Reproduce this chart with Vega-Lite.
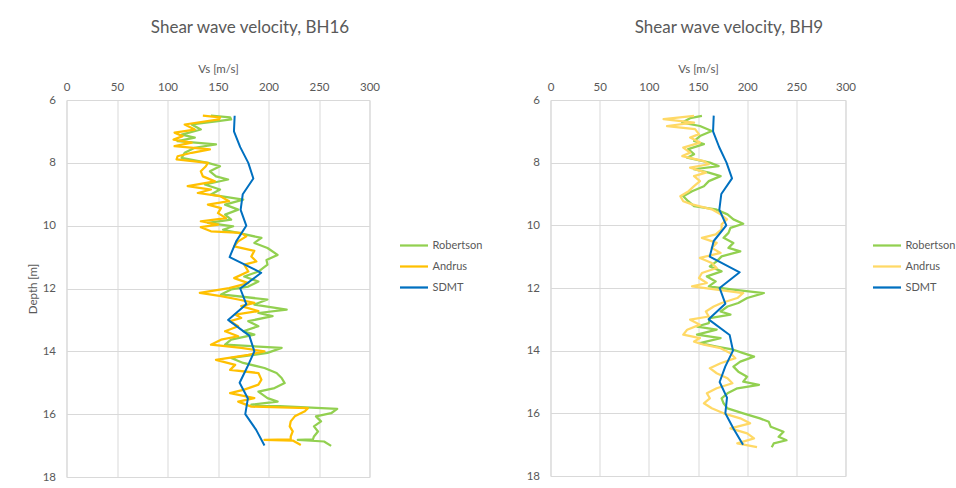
{
  "$schema": "https://vega.github.io/schema/vega-lite/v6.json",
  "padding": {"left": 26.5, "top": 18, "right": 12, "bottom": 5},
  "bounds": "flush",
  "spacing": 181,
  "config": {
    "font": "Lato",
    "view": {"stroke": "#D9D9D9", "strokeWidth": 1},
    "axis": {
      "grid": true, "gridColor": "#D9D9D9", "gridWidth": 1,
      "domain": false, "ticks": false, "labelFlush": false,
      "labelColor": "#595959", "titleColor": "#595959",
      "labelFontSize": 11.5, "titleFontSize": 11.5, "titleFontWeight": "normal",
      "labelFont": "Lato", "titleFont": "Lato"
    },
    "title": {"fontSize": 17, "fontWeight": "normal", "color": "#595959", "font": "Lato"},
    "legend": {
      "orient": "none", "legendY": 130,
      "title": null, "symbolType": "stroke", "symbolSize": 784, "symbolStrokeWidth": 2.25,
      "labelColor": "#595959", "labelFontSize": 11, "labelFont": "Lato",
      "rowPadding": -3.5, "labelOffset": 3
    },
    "line": {"strokeJoin": "round", "strokeCap": "butt"}
  },
  "datasets": {
    "bh16": [
      {"s": "Robertson", "d": 6.50, "v": 143}, {"s": "Robertson", "d": 6.55, "v": 162}, {"s": "Robertson", "d": 6.62, "v": 163},
      {"s": "Robertson", "d": 6.67, "v": 150}, {"s": "Robertson", "d": 6.78, "v": 124}, {"s": "Robertson", "d": 6.94, "v": 133},
      {"s": "Robertson", "d": 7.10, "v": 114}, {"s": "Robertson", "d": 7.20, "v": 127}, {"s": "Robertson", "d": 7.31, "v": 110},
      {"s": "Robertson", "d": 7.41, "v": 148}, {"s": "Robertson", "d": 7.52, "v": 127}, {"s": "Robertson", "d": 7.68, "v": 117},
      {"s": "Robertson", "d": 7.84, "v": 114}, {"s": "Robertson", "d": 8.00, "v": 140}, {"s": "Robertson", "d": 8.11, "v": 152},
      {"s": "Robertson", "d": 8.27, "v": 142}, {"s": "Robertson", "d": 8.43, "v": 148}, {"s": "Robertson", "d": 8.53, "v": 160},
      {"s": "Robertson", "d": 8.69, "v": 137}, {"s": "Robertson", "d": 8.85, "v": 152}, {"s": "Robertson", "d": 9.01, "v": 143},
      {"s": "Robertson", "d": 9.17, "v": 175}, {"s": "Robertson", "d": 9.33, "v": 157}, {"s": "Robertson", "d": 9.49, "v": 170},
      {"s": "Robertson", "d": 9.65, "v": 157}, {"s": "Robertson", "d": 9.81, "v": 163}, {"s": "Robertson", "d": 9.91, "v": 140},
      {"s": "Robertson", "d": 10.02, "v": 165}, {"s": "Robertson", "d": 10.13, "v": 155}, {"s": "Robertson", "d": 10.23, "v": 170},
      {"s": "Robertson", "d": 10.39, "v": 193}, {"s": "Robertson", "d": 10.55, "v": 186}, {"s": "Robertson", "d": 10.71, "v": 199},
      {"s": "Robertson", "d": 10.93, "v": 209}, {"s": "Robertson", "d": 11.09, "v": 198}, {"s": "Robertson", "d": 11.24, "v": 199},
      {"s": "Robertson", "d": 11.46, "v": 190}, {"s": "Robertson", "d": 11.62, "v": 176}, {"s": "Robertson", "d": 11.78, "v": 190},
      {"s": "Robertson", "d": 11.94, "v": 180}, {"s": "Robertson", "d": 12.03, "v": 163}, {"s": "Robertson", "d": 12.19, "v": 153},
      {"s": "Robertson", "d": 12.35, "v": 199}, {"s": "Robertson", "d": 12.51, "v": 186}, {"s": "Robertson", "d": 12.67, "v": 218},
      {"s": "Robertson", "d": 12.78, "v": 190}, {"s": "Robertson", "d": 12.88, "v": 204}, {"s": "Robertson", "d": 13.04, "v": 180},
      {"s": "Robertson", "d": 13.20, "v": 190}, {"s": "Robertson", "d": 13.36, "v": 175}, {"s": "Robertson", "d": 13.47, "v": 186},
      {"s": "Robertson", "d": 13.63, "v": 163}, {"s": "Robertson", "d": 13.79, "v": 157}, {"s": "Robertson", "d": 13.89, "v": 213},
      {"s": "Robertson", "d": 14.05, "v": 199}, {"s": "Robertson", "d": 14.21, "v": 163}, {"s": "Robertson", "d": 14.37, "v": 175},
      {"s": "Robertson", "d": 14.53, "v": 196}, {"s": "Robertson", "d": 14.69, "v": 208}, {"s": "Robertson", "d": 14.85, "v": 213},
      {"s": "Robertson", "d": 15.01, "v": 216}, {"s": "Robertson", "d": 15.17, "v": 206}, {"s": "Robertson", "d": 15.28, "v": 190},
      {"s": "Robertson", "d": 15.49, "v": 199}, {"s": "Robertson", "d": 15.60, "v": 209}, {"s": "Robertson", "d": 15.70, "v": 183},
      {"s": "Robertson", "d": 15.83, "v": 268}, {"s": "Robertson", "d": 15.97, "v": 262}, {"s": "Robertson", "d": 16.07, "v": 247},
      {"s": "Robertson", "d": 16.23, "v": 252}, {"s": "Robertson", "d": 16.39, "v": 245}, {"s": "Robertson", "d": 16.55, "v": 249},
      {"s": "Robertson", "d": 16.71, "v": 245}, {"s": "Robertson", "d": 16.80, "v": 244}, {"s": "Robertson", "d": 16.82, "v": 229},
      {"s": "Robertson", "d": 16.87, "v": 255}, {"s": "Robertson", "d": 17.01, "v": 262},

      {"s": "Andrus", "d": 6.50, "v": 135}, {"s": "Andrus", "d": 6.55, "v": 152}, {"s": "Andrus", "d": 6.62, "v": 151},
      {"s": "Andrus", "d": 6.78, "v": 117}, {"s": "Andrus", "d": 6.94, "v": 127}, {"s": "Andrus", "d": 7.04, "v": 107},
      {"s": "Andrus", "d": 7.15, "v": 115}, {"s": "Andrus", "d": 7.26, "v": 106}, {"s": "Andrus", "d": 7.36, "v": 124},
      {"s": "Andrus", "d": 7.47, "v": 107}, {"s": "Andrus", "d": 7.57, "v": 142}, {"s": "Andrus", "d": 7.68, "v": 124},
      {"s": "Andrus", "d": 7.79, "v": 110}, {"s": "Andrus", "d": 7.89, "v": 109}, {"s": "Andrus", "d": 8.00, "v": 140},
      {"s": "Andrus", "d": 8.11, "v": 138}, {"s": "Andrus", "d": 8.27, "v": 133}, {"s": "Andrus", "d": 8.43, "v": 135},
      {"s": "Andrus", "d": 8.59, "v": 147}, {"s": "Andrus", "d": 8.74, "v": 120}, {"s": "Andrus", "d": 8.85, "v": 143},
      {"s": "Andrus", "d": 8.96, "v": 130}, {"s": "Andrus", "d": 9.06, "v": 152}, {"s": "Andrus", "d": 9.22, "v": 161},
      {"s": "Andrus", "d": 9.33, "v": 140}, {"s": "Andrus", "d": 9.44, "v": 153}, {"s": "Andrus", "d": 9.60, "v": 150},
      {"s": "Andrus", "d": 9.76, "v": 158}, {"s": "Andrus", "d": 9.86, "v": 133}, {"s": "Andrus", "d": 9.97, "v": 150},
      {"s": "Andrus", "d": 10.05, "v": 133}, {"s": "Andrus", "d": 10.18, "v": 143}, {"s": "Andrus", "d": 10.23, "v": 173},
      {"s": "Andrus", "d": 10.34, "v": 178}, {"s": "Andrus", "d": 10.50, "v": 170}, {"s": "Andrus", "d": 10.66, "v": 166},
      {"s": "Andrus", "d": 10.80, "v": 186}, {"s": "Andrus", "d": 10.98, "v": 183}, {"s": "Andrus", "d": 11.14, "v": 188},
      {"s": "Andrus", "d": 11.24, "v": 176}, {"s": "Andrus", "d": 11.46, "v": 180}, {"s": "Andrus", "d": 11.67, "v": 166},
      {"s": "Andrus", "d": 11.83, "v": 180}, {"s": "Andrus", "d": 11.99, "v": 161}, {"s": "Andrus", "d": 12.14, "v": 132},
      {"s": "Andrus", "d": 12.24, "v": 153}, {"s": "Andrus", "d": 12.35, "v": 170}, {"s": "Andrus", "d": 12.46, "v": 186},
      {"s": "Andrus", "d": 12.56, "v": 173}, {"s": "Andrus", "d": 12.72, "v": 190}, {"s": "Andrus", "d": 12.83, "v": 167},
      {"s": "Andrus", "d": 12.94, "v": 173}, {"s": "Andrus", "d": 13.04, "v": 162}, {"s": "Andrus", "d": 13.20, "v": 170},
      {"s": "Andrus", "d": 13.36, "v": 157}, {"s": "Andrus", "d": 13.52, "v": 170}, {"s": "Andrus", "d": 13.63, "v": 153},
      {"s": "Andrus", "d": 13.79, "v": 143}, {"s": "Andrus", "d": 13.89, "v": 173}, {"s": "Andrus", "d": 14.00, "v": 196},
      {"s": "Andrus", "d": 14.11, "v": 180}, {"s": "Andrus", "d": 14.27, "v": 148}, {"s": "Andrus", "d": 14.43, "v": 167},
      {"s": "Andrus", "d": 14.59, "v": 162}, {"s": "Andrus", "d": 14.69, "v": 190}, {"s": "Andrus", "d": 14.90, "v": 193},
      {"s": "Andrus", "d": 15.06, "v": 190}, {"s": "Andrus", "d": 15.22, "v": 176}, {"s": "Andrus", "d": 15.33, "v": 162},
      {"s": "Andrus", "d": 15.49, "v": 186}, {"s": "Andrus", "d": 15.60, "v": 170}, {"s": "Andrus", "d": 15.76, "v": 183},
      {"s": "Andrus", "d": 15.81, "v": 239}, {"s": "Andrus", "d": 15.91, "v": 236}, {"s": "Andrus", "d": 16.07, "v": 226},
      {"s": "Andrus", "d": 16.23, "v": 222}, {"s": "Andrus", "d": 16.39, "v": 221}, {"s": "Andrus", "d": 16.55, "v": 224},
      {"s": "Andrus", "d": 16.71, "v": 222}, {"s": "Andrus", "d": 16.80, "v": 222}, {"s": "Andrus", "d": 16.82, "v": 196},
      {"s": "Andrus", "d": 16.84, "v": 224}, {"s": "Andrus", "d": 16.98, "v": 232},

      {"s": "SDMT", "d": 6.5, "v": 166.5}, {"s": "SDMT", "d": 7.0, "v": 165.8}, {"s": "SDMT", "d": 7.5, "v": 172},
      {"s": "SDMT", "d": 8.0, "v": 180}, {"s": "SDMT", "d": 8.5, "v": 185}, {"s": "SDMT", "d": 9.0, "v": 174.5},
      {"s": "SDMT", "d": 9.5, "v": 172.4}, {"s": "SDMT", "d": 10.0, "v": 178}, {"s": "SDMT", "d": 10.5, "v": 168},
      {"s": "SDMT", "d": 11.0, "v": 161.5}, {"s": "SDMT", "d": 11.5, "v": 192.8}, {"s": "SDMT", "d": 12.0, "v": 172},
      {"s": "SDMT", "d": 12.5, "v": 178}, {"s": "SDMT", "d": 13.0, "v": 160}, {"s": "SDMT", "d": 13.5, "v": 181},
      {"s": "SDMT", "d": 14.0, "v": 186}, {"s": "SDMT", "d": 14.5, "v": 179}, {"s": "SDMT", "d": 15.0, "v": 171.4},
      {"s": "SDMT", "d": 15.5, "v": 179.6}, {"s": "SDMT", "d": 16.0, "v": 177}, {"s": "SDMT", "d": 16.5, "v": 187.8},
      {"s": "SDMT", "d": 17.0, "v": 196}
    ],
    "bh9": [
      {"s": "Robertson", "d": 6.51, "v": 154}, {"s": "Robertson", "d": 6.58, "v": 142}, {"s": "Robertson", "d": 6.72, "v": 134},
      {"s": "Robertson", "d": 6.83, "v": 152}, {"s": "Robertson", "d": 6.99, "v": 164}, {"s": "Robertson", "d": 7.15, "v": 152},
      {"s": "Robertson", "d": 7.31, "v": 146}, {"s": "Robertson", "d": 7.41, "v": 156}, {"s": "Robertson", "d": 7.57, "v": 140},
      {"s": "Robertson", "d": 7.73, "v": 146}, {"s": "Robertson", "d": 7.84, "v": 139}, {"s": "Robertson", "d": 8.00, "v": 162},
      {"s": "Robertson", "d": 8.11, "v": 171}, {"s": "Robertson", "d": 8.21, "v": 146}, {"s": "Robertson", "d": 8.32, "v": 161},
      {"s": "Robertson", "d": 8.43, "v": 173}, {"s": "Robertson", "d": 8.59, "v": 161}, {"s": "Robertson", "d": 8.75, "v": 156},
      {"s": "Robertson", "d": 8.91, "v": 144}, {"s": "Robertson", "d": 9.07, "v": 135}, {"s": "Robertson", "d": 9.23, "v": 140},
      {"s": "Robertson", "d": 9.39, "v": 146}, {"s": "Robertson", "d": 9.49, "v": 168}, {"s": "Robertson", "d": 9.65, "v": 180},
      {"s": "Robertson", "d": 9.81, "v": 186}, {"s": "Robertson", "d": 9.95, "v": 196}, {"s": "Robertson", "d": 10.08, "v": 183},
      {"s": "Robertson", "d": 10.24, "v": 181}, {"s": "Robertson", "d": 10.40, "v": 176}, {"s": "Robertson", "d": 10.56, "v": 186},
      {"s": "Robertson", "d": 10.72, "v": 181}, {"s": "Robertson", "d": 10.83, "v": 193}, {"s": "Robertson", "d": 10.99, "v": 174},
      {"s": "Robertson", "d": 11.15, "v": 169}, {"s": "Robertson", "d": 11.31, "v": 162}, {"s": "Robertson", "d": 11.47, "v": 174},
      {"s": "Robertson", "d": 11.63, "v": 159}, {"s": "Robertson", "d": 11.79, "v": 168}, {"s": "Robertson", "d": 11.95, "v": 161},
      {"s": "Robertson", "d": 12.05, "v": 186}, {"s": "Robertson", "d": 12.16, "v": 217}, {"s": "Robertson", "d": 12.32, "v": 200},
      {"s": "Robertson", "d": 12.48, "v": 191}, {"s": "Robertson", "d": 12.59, "v": 180}, {"s": "Robertson", "d": 12.75, "v": 173},
      {"s": "Robertson", "d": 12.85, "v": 183}, {"s": "Robertson", "d": 12.96, "v": 162}, {"s": "Robertson", "d": 13.12, "v": 161},
      {"s": "Robertson", "d": 13.23, "v": 149}, {"s": "Robertson", "d": 13.33, "v": 169}, {"s": "Robertson", "d": 13.49, "v": 149},
      {"s": "Robertson", "d": 13.60, "v": 173}, {"s": "Robertson", "d": 13.76, "v": 152}, {"s": "Robertson", "d": 13.87, "v": 169},
      {"s": "Robertson", "d": 13.97, "v": 186}, {"s": "Robertson", "d": 14.08, "v": 196}, {"s": "Robertson", "d": 14.19, "v": 207},
      {"s": "Robertson", "d": 14.35, "v": 193}, {"s": "Robertson", "d": 14.51, "v": 186}, {"s": "Robertson", "d": 14.67, "v": 191},
      {"s": "Robertson", "d": 14.83, "v": 200}, {"s": "Robertson", "d": 14.99, "v": 196}, {"s": "Robertson", "d": 15.09, "v": 212},
      {"s": "Robertson", "d": 15.20, "v": 190}, {"s": "Robertson", "d": 15.36, "v": 180}, {"s": "Robertson", "d": 15.52, "v": 174},
      {"s": "Robertson", "d": 15.68, "v": 176}, {"s": "Robertson", "d": 15.84, "v": 180}, {"s": "Robertson", "d": 16.00, "v": 196},
      {"s": "Robertson", "d": 16.16, "v": 213}, {"s": "Robertson", "d": 16.27, "v": 222}, {"s": "Robertson", "d": 16.43, "v": 224},
      {"s": "Robertson", "d": 16.59, "v": 237}, {"s": "Robertson", "d": 16.75, "v": 232}, {"s": "Robertson", "d": 16.86, "v": 240},
      {"s": "Robertson", "d": 16.96, "v": 227}, {"s": "Robertson", "d": 17.08, "v": 225},

      {"s": "Andrus", "d": 6.51, "v": 146}, {"s": "Andrus", "d": 6.61, "v": 115}, {"s": "Andrus", "d": 6.72, "v": 146},
      {"s": "Andrus", "d": 6.83, "v": 118.5}, {"s": "Andrus", "d": 6.93, "v": 147}, {"s": "Andrus", "d": 7.09, "v": 151},
      {"s": "Andrus", "d": 7.20, "v": 142}, {"s": "Andrus", "d": 7.36, "v": 152}, {"s": "Andrus", "d": 7.52, "v": 135},
      {"s": "Andrus", "d": 7.68, "v": 142}, {"s": "Andrus", "d": 7.79, "v": 134}, {"s": "Andrus", "d": 7.95, "v": 156},
      {"s": "Andrus", "d": 8.05, "v": 161}, {"s": "Andrus", "d": 8.16, "v": 142}, {"s": "Andrus", "d": 8.32, "v": 158},
      {"s": "Andrus", "d": 8.43, "v": 146}, {"s": "Andrus", "d": 8.59, "v": 152}, {"s": "Andrus", "d": 8.75, "v": 146},
      {"s": "Andrus", "d": 8.91, "v": 140.5}, {"s": "Andrus", "d": 9.07, "v": 132}, {"s": "Andrus", "d": 9.23, "v": 135},
      {"s": "Andrus", "d": 9.33, "v": 144}, {"s": "Andrus", "d": 9.49, "v": 164}, {"s": "Andrus", "d": 9.65, "v": 173},
      {"s": "Andrus", "d": 9.81, "v": 179.5}, {"s": "Andrus", "d": 9.97, "v": 174}, {"s": "Andrus", "d": 10.13, "v": 174},
      {"s": "Andrus", "d": 10.29, "v": 168}, {"s": "Andrus", "d": 10.40, "v": 154}, {"s": "Andrus", "d": 10.56, "v": 169},
      {"s": "Andrus", "d": 10.72, "v": 164}, {"s": "Andrus", "d": 10.88, "v": 173}, {"s": "Andrus", "d": 11.04, "v": 152},
      {"s": "Andrus", "d": 11.20, "v": 164}, {"s": "Andrus", "d": 11.36, "v": 169}, {"s": "Andrus", "d": 11.52, "v": 154},
      {"s": "Andrus", "d": 11.68, "v": 151}, {"s": "Andrus", "d": 11.84, "v": 159}, {"s": "Andrus", "d": 11.95, "v": 144},
      {"s": "Andrus", "d": 12.05, "v": 169}, {"s": "Andrus", "d": 12.16, "v": 196}, {"s": "Andrus", "d": 12.32, "v": 190},
      {"s": "Andrus", "d": 12.48, "v": 174}, {"s": "Andrus", "d": 12.59, "v": 166}, {"s": "Andrus", "d": 12.75, "v": 158},
      {"s": "Andrus", "d": 12.91, "v": 161}, {"s": "Andrus", "d": 13.01, "v": 142}, {"s": "Andrus", "d": 13.17, "v": 152},
      {"s": "Andrus", "d": 13.33, "v": 139}, {"s": "Andrus", "d": 13.49, "v": 135}, {"s": "Andrus", "d": 13.60, "v": 152},
      {"s": "Andrus", "d": 13.71, "v": 146}, {"s": "Andrus", "d": 13.81, "v": 156}, {"s": "Andrus", "d": 13.92, "v": 173},
      {"s": "Andrus", "d": 14.08, "v": 183}, {"s": "Andrus", "d": 14.24, "v": 188}, {"s": "Andrus", "d": 14.40, "v": 173},
      {"s": "Andrus", "d": 14.56, "v": 162}, {"s": "Andrus", "d": 14.72, "v": 169}, {"s": "Andrus", "d": 14.88, "v": 180},
      {"s": "Andrus", "d": 15.04, "v": 185}, {"s": "Andrus", "d": 15.20, "v": 169}, {"s": "Andrus", "d": 15.36, "v": 159},
      {"s": "Andrus", "d": 15.52, "v": 162}, {"s": "Andrus", "d": 15.68, "v": 156}, {"s": "Andrus", "d": 15.84, "v": 164},
      {"s": "Andrus", "d": 16.00, "v": 176}, {"s": "Andrus", "d": 16.16, "v": 193}, {"s": "Andrus", "d": 16.32, "v": 203},
      {"s": "Andrus", "d": 16.48, "v": 183}, {"s": "Andrus", "d": 16.64, "v": 200}, {"s": "Andrus", "d": 16.80, "v": 207},
      {"s": "Andrus", "d": 16.96, "v": 190}, {"s": "Andrus", "d": 17.08, "v": 210},

      {"s": "SDMT", "d": 6.5, "v": 166}, {"s": "SDMT", "d": 7.0, "v": 165.3}, {"s": "SDMT", "d": 7.5, "v": 171.5},
      {"s": "SDMT", "d": 8.0, "v": 179}, {"s": "SDMT", "d": 8.5, "v": 184.6}, {"s": "SDMT", "d": 9.0, "v": 173.7},
      {"s": "SDMT", "d": 9.5, "v": 171.7}, {"s": "SDMT", "d": 10.0, "v": 178.8}, {"s": "SDMT", "d": 10.5, "v": 166},
      {"s": "SDMT", "d": 11.0, "v": 161.9}, {"s": "SDMT", "d": 11.5, "v": 192.4}, {"s": "SDMT", "d": 12.0, "v": 172},
      {"s": "SDMT", "d": 12.5, "v": 177.8}, {"s": "SDMT", "d": 13.0, "v": 160.8}, {"s": "SDMT", "d": 13.5, "v": 182.2},
      {"s": "SDMT", "d": 14.0, "v": 185.6}, {"s": "SDMT", "d": 14.5, "v": 177.8}, {"s": "SDMT", "d": 15.0, "v": 172},
      {"s": "SDMT", "d": 15.5, "v": 179.5}, {"s": "SDMT", "d": 16.0, "v": 177.8}, {"s": "SDMT", "d": 16.5, "v": 186.3},
      {"s": "SDMT", "d": 17.0, "v": 195.8}
    ]
  },
  "hconcat": [
    {
      "width": 303, "height": 377,
      "title": {"text": "Shear wave velocity, BH16", "dx": 32, "offset": 26},
      "data": {"name": "bh16"},
      "encoding": {
        "x": {"field": "v", "type": "quantitative",
              "scale": {"domain": [0, 300], "nice": false},
              "axis": {"orient": "top", "title": "Vs [m/s]", "values": [0, 50, 100, 150, 200, 250, 300], "labelPadding": 8, "titlePadding": 7}},
        "y": {"field": "d", "type": "quantitative",
              "scale": {"domain": [6, 18], "reverse": true, "nice": false, "zero": false},
              "axis": {"title": "Depth [m]", "values": [6, 8, 10, 12, 14, 16, 18], "labelPadding": 11, "titlePadding": 4}},
        "order": {"field": "d", "type": "quantitative"},
        "color": {"field": "s", "type": "nominal",
                  "scale": {"domain": ["Robertson", "Andrus", "SDMT"], "range": ["#92D050", "#FFC000", "#0070C0"]},
                  "legend": {"legendX": 332}}
      },
      "layer": [
        {"transform": [{"filter": "datum.s === 'Robertson'"}], "mark": {"type": "line", "strokeWidth": 2.25}},
        {"transform": [{"filter": "datum.s === 'Andrus'"}], "mark": {"type": "line", "strokeWidth": 2.25}},
        {"transform": [{"filter": "datum.s === 'SDMT'"}], "mark": {"type": "line", "strokeWidth": 2}}
      ]
    },
    {
      "width": 295, "height": 376,
      "title": {"text": "Shear wave velocity, BH9", "dx": 31, "offset": 26},
      "data": {"name": "bh9"},
      "encoding": {
        "x": {"field": "v", "type": "quantitative",
              "scale": {"domain": [0, 300], "nice": false},
              "axis": {"orient": "top", "title": "Vs [m/s]", "values": [0, 50, 100, 150, 200, 250, 300], "labelPadding": 8, "titlePadding": 7}},
        "y": {"field": "d", "type": "quantitative",
              "scale": {"domain": [6, 18], "reverse": true, "nice": false, "zero": false},
              "axis": {"title": null, "values": [6, 8, 10, 12, 14, 16, 18], "labelPadding": 11}},
        "order": {"field": "d", "type": "quantitative"},
        "color": {"field": "s", "type": "nominal",
                  "scale": {"domain": ["Robertson", "Andrus", "SDMT"], "range": ["#92D050", "#FFD966", "#0070C0"]},
                  "legend": {"legendX": 321}}
      },
      "layer": [
        {"transform": [{"filter": "datum.s === 'Robertson'"}], "mark": {"type": "line", "strokeWidth": 2.25}},
        {"transform": [{"filter": "datum.s === 'Andrus'"}], "mark": {"type": "line", "strokeWidth": 2.25}},
        {"transform": [{"filter": "datum.s === 'SDMT'"}], "mark": {"type": "line", "strokeWidth": 2}}
      ]
    }
  ],
  "resolve": {"scale": {"color": "independent"}, "legend": {"color": "independent"}}
}
